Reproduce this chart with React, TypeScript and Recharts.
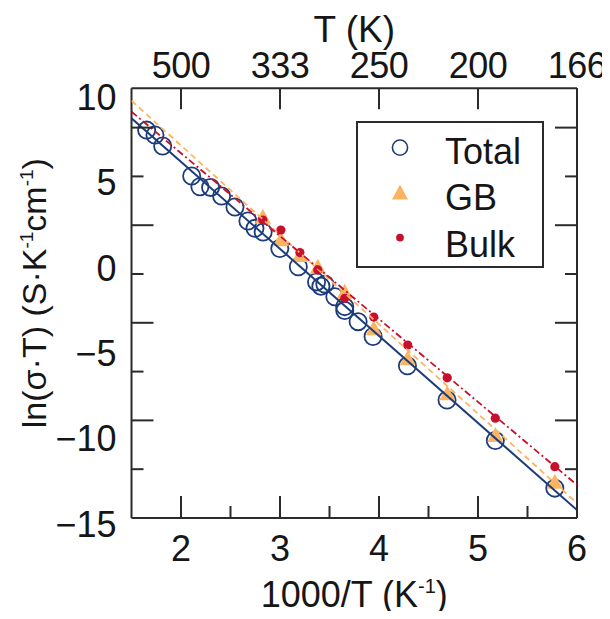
import React from 'react';
import { ComposedChart, Scatter, XAxis, YAxis, Legend, ReferenceLine } from 'recharts';

// 1000/T (K^-1) and ln(sigma*T) for the total conductivity
const totalX = [1.653, 1.737, 1.815, 2.108, 2.191, 2.299, 2.41, 2.545, 2.676, 2.747, 2.83, 2.998, 3.185, 3.369, 3.413, 3.453, 3.554, 3.654, 3.654, 3.789, 3.94, 4.287, 4.687, 5.175, 5.776];
const totalY = [8.07, 7.78, 7.14, 5.38, 4.75, 4.71, 4.21, 3.56, 2.74, 2.31, 2.09, 1.13, 0.06, -0.83, -1.08, -0.96, -1.7, -2.28, -2.51, -3.16, -4.03, -5.75, -7.75, -10.13, -12.92];

// grain-boundary and bulk contributions (low-temperature set)
const splitX = [2.827, 3.009, 3.201, 3.382, 3.654, 3.947, 4.29, 4.689, 5.175, 5.776];
const gbY = [2.99, 1.67, 0.75, 0.06, -1.4, -3.55, -5.31, -7.36, -9.8, -12.54];
const bulkY = [2.8, 2.21, 0.89, -0.13, -1.79, -2.89, -4.53, -6.45, -8.82, -11.66];

// Arrhenius fits, evaluated at the ends of the 1000/T range
const fitX = [1.5, 6];
const totalFitY = [8.76, -14.2];
const gbFitY = [9.79, -13.8];
const bulkFitY = [9.15, -12.73];

// axis ranges and ticks
const xDomain = [1.5, 6];
const yDomain = [-14.67, 10.52];
const xMajorTicks = [2, 3, 4, 5, 6];
const xMinorTicks = [2.5, 3.5, 4.5, 5.5];
const topTickLabels = ['500', '333', '250', '200', '166']; // T (K) at the major 1000/T ticks
const yLabelTicks = [10, 5, 0, -5, -10, -15];
const yLongMarks = [8.215, 2.494, -3.227, -8.948];
const yShortMarks = [5.355, -0.366, -6.087, -11.808];

const NAVY = '#1c3d7a';
const ORANGE = '#fdb462';
const RED = '#c8102e';
const AXIS = '#2b2b2b';
const INK = '#161616';
const FONT = '"Liberation Sans", Arial, Helvetica, sans-serif';
const FS = 36;

// chart frame
const CHART_W = 602;
const CHART_H = 611;
const MARGIN = { top: 80.3, right: 32, bottom: 100, left: 122.5 };
const PLOT_H = CHART_H - MARGIN.top - MARGIN.bottom - 1;

const toPoints = (xs: number[], ys: number[]) => xs.map((x, i) => ({ x, y: ys[i] }));

const totalData = toPoints(totalX, totalY);
const gbData = toPoints(splitX, gbY);
const bulkData = toPoints(splitX, bulkY);
const totalFit = toPoints(fitX, totalFitY);
const gbFit = toPoints(fitX, gbFitY);
const bulkFit = toPoints(fitX, bulkFitY);

const legendItems = [
  { name: 'Total', kind: 'ring', color: NAVY },
  { name: 'GB', kind: 'triangle', color: ORANGE },
  { name: 'Bulk', kind: 'dot', color: RED },
];

const Ring = (p: any) => (
  <circle cx={p.cx} cy={p.cy} r={8.6} fill="none" stroke={NAVY} strokeWidth={1.8} />
);
const Tri = (p: any) => (
  <polygon
    points={`${p.cx},${p.cy - 8} ${p.cx - 8},${p.cy + 7} ${p.cx + 8},${p.cy + 7}`}
    fill={ORANGE}
  />
);
const Dot = (p: any) => <circle cx={p.cx} cy={p.cy} r={4.6} fill={RED} />;
const NoMark = () => <g />;

const textStyle = { fontFamily: FONT, fontSize: FS, fill: INK };

// bottom axis ticks; the matching top-axis ticks (T in K) are drawn at the same x
const BottomTick = (props: any) => {
  const { x, y, payload } = props;
  const v = payload.value as number;
  const major = Number.isInteger(v);
  const top = y - PLOT_H;
  const ti = xMajorTicks.indexOf(v);
  return (
    <g>
      <line x1={x} x2={x} y1={y} y2={y - (major ? 22 : 12)} stroke={AXIS} strokeWidth={2} />
      {major && (
        <text x={x} y={y + 43} textAnchor="middle" {...textStyle}>
          {v}
        </text>
      )}
      {major && <line x1={x} x2={x} y1={top} y2={top + 21} stroke={AXIS} strokeWidth={2} />}
      {major && (
        <text x={x} y={top - 10} textAnchor="middle" {...textStyle} letterSpacing={-0.5}>
          {topTickLabels[ti]}
        </text>
      )}
    </g>
  );
};

const fmt = (v: number) => (v < 0 ? `\u2212${Math.abs(v)}` : `${v}`);

const LeftTick = (props: any) => {
  const { x, y, payload } = props;
  const v = payload.value as number;
  if (yLabelTicks.includes(v)) {
    return (
      <text x={x - 15} y={y + 13} textAnchor="end" {...textStyle}>
        {fmt(v)}
      </text>
    );
  }
  const len = yLongMarks.includes(v) ? 22 : 12;
  return <line x1={x} x2={x + len} y1={y} y2={y} stroke={AXIS} strokeWidth={2} />;
};

const RightTick = (props: any) => {
  const { x, y, payload } = props;
  const v = payload.value as number;
  const len = yLongMarks.includes(v) ? 22 : 12;
  return <line x1={x} x2={x - len} y1={y} y2={y} stroke={AXIS} strokeWidth={2} />;
};

// axis titles: 1000/T below the frame, T (K) above it
const XTitles = (props: any) => {
  const vb = props.viewBox;
  const cx = vb.x + vb.width / 2;
  return (
    <g>
      <text x={cx} y={vb.y + 89} textAnchor="middle" {...textStyle}>
        1000/T (K
        <tspan dy={-14} fontSize={20}>-1</tspan>
        <tspan dy={14}>)</tspan>
      </text>
      <text x={cx} y={vb.y - PLOT_H - 46.5} textAnchor="middle" {...textStyle} fontSize={37}>
        T (K)
      </text>
    </g>
  );
};

const LeftTitle = (props: any) => {
  const vb = props.viewBox;
  const cx = vb.x + vb.width - 86;
  const cy = vb.y + vb.height / 2 - 10;
  return (
    <text
      transform={`translate(${cx},${cy}) rotate(-90)`}
      textAnchor="middle"
      {...textStyle}
      fontSize={34}
    >
      ln(σ·T) (S·K
      <tspan dy={-13} fontSize={19}>-1</tspan>
      <tspan dy={13}>cm</tspan>
      <tspan dy={-13} fontSize={19}>-1</tspan>
      <tspan dy={13}>)</tspan>
    </text>
  );
};

const LegendBox = () => (
  <svg width={188} height={147} style={{ display: 'block', overflow: 'visible' }}>
    <rect x={1} y={1} width={186} height={145} fill="#ffffff" stroke={AXIS} strokeWidth={2} />
    {legendItems.map((item, i) => {
      const my = 26.6 + i * 45;
      const ty = 42.6 + i * 46.7;
      let mark;
      if (item.kind === 'ring') {
        mark = <circle cx={44} cy={my} r={7.6} fill="none" stroke={item.color} strokeWidth={1.6} />;
      } else if (item.kind === 'triangle') {
        mark = <polygon points={`44,${my - 8} 36,${my + 7} 52,${my + 7}`} fill={item.color} />;
      } else {
        mark = <circle cx={44} cy={my} r={3.9} fill={item.color} />;
      }
      return (
        <g key={item.name}>
          {mark}
          <text x={89} y={ty} {...textStyle}>
            {item.name}
          </text>
        </g>
      );
    })}
  </svg>
);

export default function App() {
  return (
    <div style={{ width: CHART_W - 8, height: CHART_H - 8 }}>
      <ComposedChart width={CHART_W} height={CHART_H} margin={MARGIN} style={{ overflow: 'visible' }}>
        <XAxis
          xAxisId="bottom"
          dataKey="x"
          type="number"
          orientation="bottom"
          domain={xDomain}
          ticks={[...xMajorTicks, ...xMinorTicks]}
          interval={0}
          allowDataOverflow
          height={1}
          tickSize={0}
          tickMargin={0}
          tickLine={false}
          axisLine={{ stroke: AXIS, strokeWidth: 2 }}
          tick={<BottomTick />}
          label={<XTitles />}
        />
        <YAxis
          yAxisId="left"
          dataKey="y"
          type="number"
          orientation="left"
          domain={yDomain}
          ticks={[...yLabelTicks, ...yLongMarks, ...yShortMarks]}
          interval={0}
          allowDataOverflow
          width={1}
          tickSize={0}
          tickMargin={0}
          tickLine={false}
          axisLine={{ stroke: AXIS, strokeWidth: 2 }}
          tick={<LeftTick />}
          label={<LeftTitle />}
        />
        <YAxis
          yAxisId="right"
          type="number"
          orientation="right"
          domain={yDomain}
          ticks={[...yLongMarks, ...yShortMarks]}
          interval={0}
          allowDataOverflow
          width={1}
          tickSize={0}
          tickMargin={0}
          tickLine={false}
          axisLine={{ stroke: AXIS, strokeWidth: 2 }}
          tick={<RightTick />}
        />
        <ReferenceLine
          xAxisId="bottom"
          yAxisId="left"
          y={yDomain[1]}
          stroke={AXIS}
          strokeWidth={2}
          ifOverflow="visible"
        />
        <Legend
          layout="horizontal"
          verticalAlign="middle"
          align="center"
          content={<LegendBox />}
          wrapperStyle={{ left: 348, top: 112.7, width: 188, height: 147 }}
        />
        <Scatter name="Total" data={totalData} xAxisId="bottom" yAxisId="left" shape={<Ring />} isAnimationActive={false} />
        <Scatter name="GB" data={gbData} xAxisId="bottom" yAxisId="left" shape={<Tri />} isAnimationActive={false} />
        <Scatter name="Bulk" data={bulkData} xAxisId="bottom" yAxisId="left" shape={<Dot />} isAnimationActive={false} />
        <Scatter
          data={totalFit}
          xAxisId="bottom"
          yAxisId="left"
          shape={<NoMark />}
          legendType="none"
          line={{ stroke: NAVY, strokeWidth: 2 }}
          isAnimationActive={false}
        />
        <Scatter
          data={gbFit}
          xAxisId="bottom"
          yAxisId="left"
          shape={<NoMark />}
          legendType="none"
          line={{ stroke: ORANGE, strokeWidth: 1.8, strokeDasharray: '6 4' }}
          isAnimationActive={false}
        />
        <Scatter
          data={bulkFit}
          xAxisId="bottom"
          yAxisId="left"
          shape={<NoMark />}
          legendType="none"
          line={{ stroke: RED, strokeWidth: 1.8, strokeDasharray: '7 3 2 3' }}
          isAnimationActive={false}
        />
      </ComposedChart>
    </div>
  );
}
